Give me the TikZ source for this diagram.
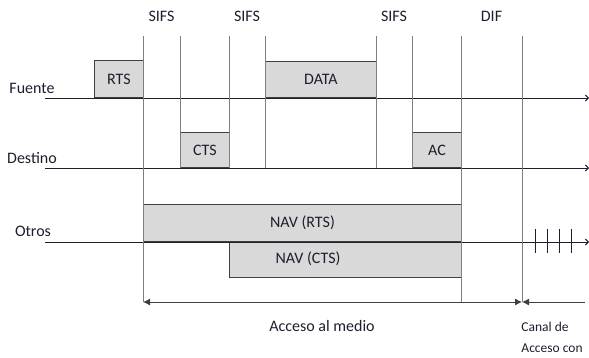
\documentclass[tikz,border=0pt]{standalone}
\usepackage{fontspec}
\setmainfont{Carlito}
\usepackage{tikz}
\usetikzlibrary{arrows.meta,positioning}
\definecolor{tinta}{HTML}{1E1E2E}
\definecolor{borde}{HTML}{404040}
\definecolor{guia}{HTML}{7F7F7F}
\definecolor{relleno}{HTML}{D9D9D9}

\begin{document}
\begin{tikzpicture}[
    x=1pt, y=-1pt,
    line width=0.9pt,
    >=Latex,
    every node/.style={font=\fontsize{16}{19}\selectfont, text=tinta, inner sep=1pt},
    trama/.style={draw=borde, fill=relleno, anchor=south west, inner sep=0pt},
    eje/.style={draw=tinta, -{Straight Barb[length=3pt,width=6pt]}},
    guia/.style={draw=guia},
    nota/.style={font=\fontsize{13.5}{21}\selectfont, align=left, anchor=north west}
]
\useasboundingbox (0,0) rectangle (589,357);

%====================================================
% TRAMAS
%====================================================
\node[trama, minimum width=49pt,  minimum height=37pt] (rts)    at (94,98)   {RTS};
\node[trama, minimum width=111pt, minimum height=36pt] (data)   at (265,98)  {DATA};
\node[trama, minimum width=49pt,  minimum height=35pt] (cts)    at (180,168) {CTS};
\node[trama, minimum width=49pt,  minimum height=35pt] (ac)     at (412,168) {AC};
\node[trama, minimum width=318pt, minimum height=37pt] (navrts) at (143,242) {NAV (RTS)};
\node[trama, minimum width=232pt, minimum height=35pt, anchor=north west] (navcts) at (229,242) {};
\node (navctstxt) at (308,259) {NAV (CTS)};

%====================================================
% EJES DE TIEMPO
%====================================================
\coordinate (f0) at (45,98);   \coordinate (f1) at (589,98);
\coordinate (d0) at (45,168);  \coordinate (d1) at (589,168);
\coordinate (o0) at (45,242);  \coordinate (o1) at (589,242);
\draw[eje] (f0) -- (f1);
\draw[eje] (d0) -- (d1);
\draw[eje] (o0) -- (o1);
\node (fuente)  at (32,88)  {Fuente};
\node (destino) at (32,158) {Destino};
\node (otros)   at (33,231) {Otros};

% marcas de contienda
\foreach \x in {535,547,559,571}
{
    \draw[tinta] (\x,229) -- (\x,253);
}

%====================================================
% INTERVALOS
%====================================================
\foreach \x/\fin in {143/302,180/168,229/168,265/168,376/168,412/168,461/302,522/302}
{
    \draw[guia] (\x,36) -- (\x,\fin);
}
\node (sifsA) at (161.5,16) {SIFS};
\node (sifsB) at (247,16)   {SIFS};
\node (sifsC) at (394,16)   {SIFS};
\node (dif)   at (491.5,16) {DIF};

%====================================================
% ACCESO
%====================================================
\coordinate (a0) at (143,302);
\coordinate (a1) at (522,302);
\coordinate (a2) at (585,302);
\draw[guia, {Latex[length=7pt,width=7pt]}-{Latex[length=7pt,width=7pt]}, draw=borde] (a0) -- (a1);
\draw[borde, -{Latex[length=7pt,width=7pt]}] (a2) -- (a1);
\node (acceso) at (322,326) {Acceso al medio};
\node[nota] (canal) at (520,321) {Canal de\\Acceso con};
\end{tikzpicture}
\end{document}
